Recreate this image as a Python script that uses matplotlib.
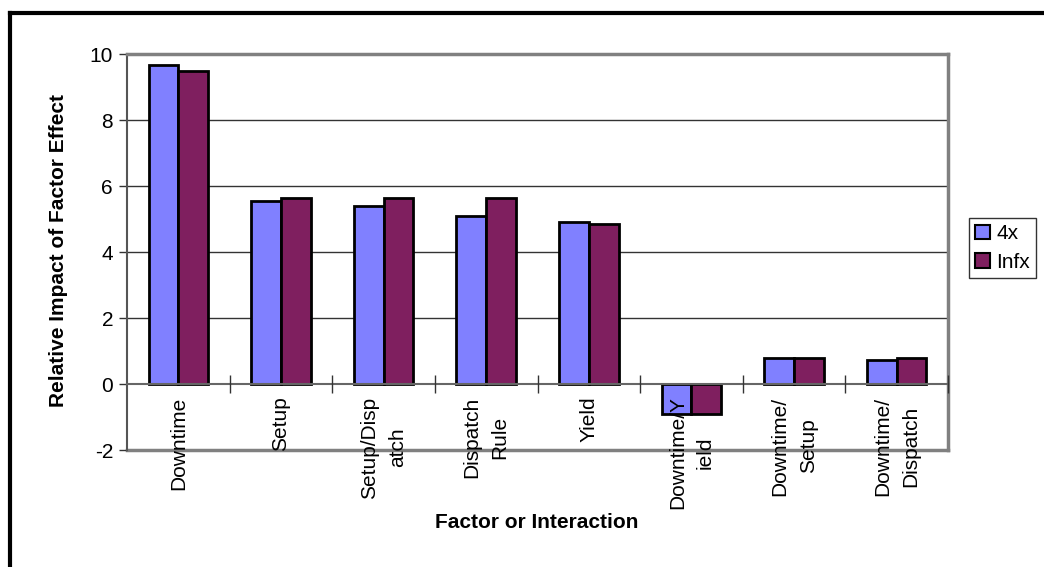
import matplotlib
matplotlib.use("Agg")
import matplotlib.pyplot as plt
import numpy as np
from matplotlib.lines import Line2D
from matplotlib.ticker import FixedLocator, NullFormatter

plt.rcParams['font.family'] = ['Liberation Sans', 'DejaVu Sans']
plt.rcParams['axes.unicode_minus'] = False

factors = ['Downtime', 'Setup', 'Setup/Disp\natch', 'Dispatch\nRule', 'Yield',
           'Downtime/Y\nield', 'Downtime/\nSetup', 'Downtime/\nDispatch']
effect_4x = [9.67, 5.55, 5.40, 5.10, 4.90, -0.90, 0.78, 0.74]
effect_infx = [9.48, 5.65, 5.65, 5.65, 4.84, -0.90, 0.80, 0.80]
series_names = ['4x', 'Infx']
series_colors = ['#8080ff', '#7f1f5f']

fig = plt.figure(figsize=(10.44, 5.67), dpi=100)
ax = fig.add_axes([127 / 1044, 1 - 450 / 567, (948 - 127) / 1044, (450 - 54) / 567])

x = np.arange(len(factors))
w = 0.29
for vals, off, col in [(effect_4x, -w / 2, series_colors[0]), (effect_infx, w / 2, series_colors[1])]:
    ax.bar(x + off, vals, width=w, color=col, edgecolor='black', linewidth=2, zorder=3)

ax.set_xlim(-0.5, len(factors) - 0.5)
ax.set_ylim(-2, 10)
ax.set_yticks(np.arange(-2, 11, 2))
for yv in [2, 4, 6, 8]:
    ax.axhline(yv, color='#333333', linewidth=1, zorder=1)
ax.axhline(-2, color='#808080', linewidth=2.5, zorder=1, clip_on=False)

# frame of the plot area
ax.spines['top'].set_color('#808080')
ax.spines['top'].set_linewidth(2.5)
ax.spines['right'].set_color('#808080')
ax.spines['right'].set_linewidth(2.5)
ax.spines['left'].set_color('#555555')
ax.spines['left'].set_linewidth(1.5)
ax.spines['bottom'].set_position(('data', 0))
ax.spines['bottom'].set_color('#666666')
ax.spines['bottom'].set_linewidth(1.5)
ax.spines['bottom'].set_zorder(4)

ax.tick_params(axis='y', direction='out', length=6, width=1, color='#333333',
               labelsize=15, pad=4)
ax.set_xticks(x)
ax.set_xticklabels(factors, rotation=90, fontsize=15, va='top', ha='center',
                   multialignment='center', linespacing=1.6)
ax.tick_params(axis='x', which='major', length=0, pad=9)
ax.xaxis.set_minor_locator(FixedLocator(np.arange(0.5, len(factors) - 0.5 + 0.01, 1)))
ax.xaxis.set_minor_formatter(NullFormatter())
ax.tick_params(axis='x', which='minor', direction='inout', length=13, width=1, color='#333333')
# category names sit on top of the bars
ax.xaxis.set_zorder(5)

ax.set_ylabel('Relative Impact of Factor Effect', fontsize=15, fontweight='bold', labelpad=14)
ax.yaxis.set_label_coords(-0.072, 0.505)
fig.text(537 / 1044, 1 - 523 / 567, 'Factor or Interaction', fontsize=15,
         fontweight='bold', ha='center', va='center')

handles = [plt.Rectangle((0, 0), 1, 1, facecolor=c, edgecolor='black', linewidth=1.5)
           for c in series_colors]
leg = fig.legend(handles, series_names, loc='upper left',
                 bbox_to_anchor=(969 / 1044, 1 - 218 / 567), fontsize=15,
                 frameon=True, fancybox=False, edgecolor='black', handlelength=0.7,
                 handleheight=0.7, handletextpad=0.3, borderpad=0.3, labelspacing=0.45,
                 borderaxespad=0)
leg.get_frame().set_linewidth(1)

# outer chart border
fig.add_artist(Line2D([10 / 1044, 10 / 1044], [0, 1 - 13 / 567], transform=fig.transFigure,
                      color='black', linewidth=3))
fig.add_artist(Line2D([10 / 1044, 1], [1 - 13 / 567, 1 - 13 / 567], transform=fig.transFigure,
                      color='black', linewidth=3))

fig.savefig('out.png', dpi=100)
